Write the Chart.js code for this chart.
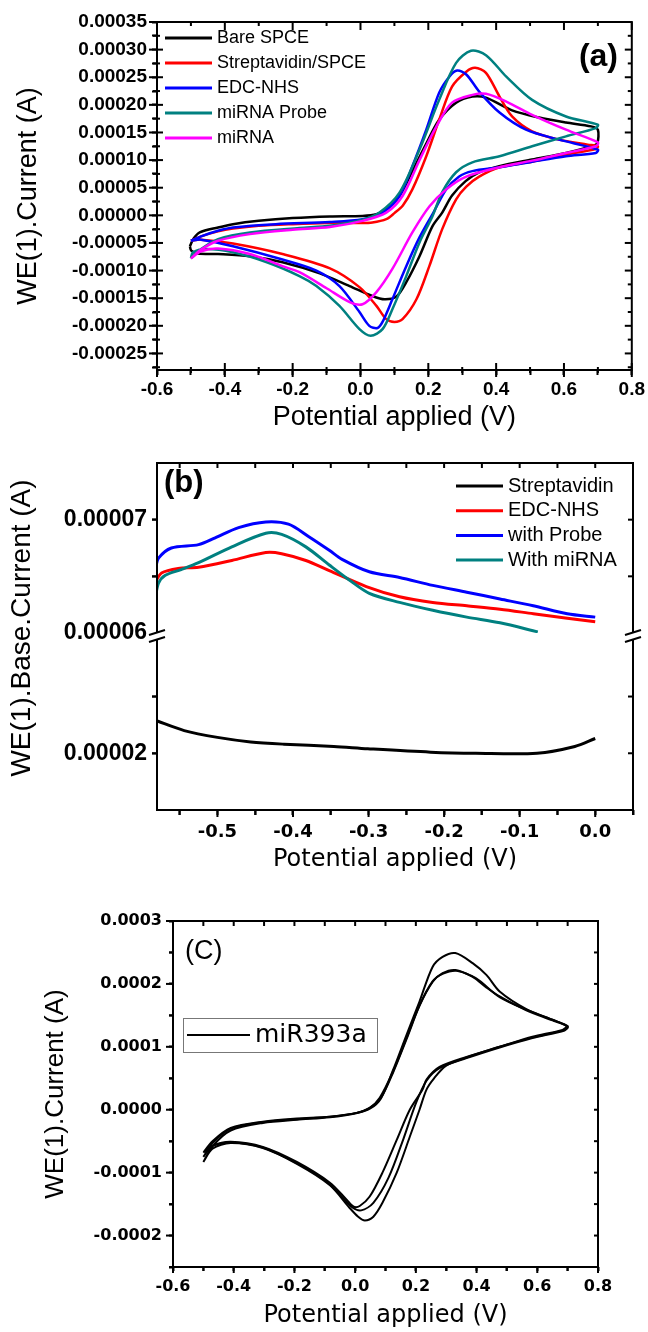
<!DOCTYPE html>
<html>
<head>
<meta charset="utf-8">
<script src="https://cdn.jsdelivr.net/npm/chart.js@4.4.1/dist/chart.umd.min.js"></script>
<style>
  body { margin: 0; background: #fff; width: 648px; height: 1332px; overflow: hidden; }
  canvas { position: absolute; left: 0; }
</style>
</head>
<body>
<canvas id="chartA" width="648" height="440" style="top:0px"></canvas>
<canvas id="chartB" width="648" height="450" style="top:440px"></canvas>
<canvas id="chartC" width="648" height="442" style="top:890px"></canvas>
<script>
// ---------- panel (a): CV curves, [potential (V), current (A)] ----------
const aLabels = ['Bare SPCE', 'Streptavidin/SPCE', 'EDC-NHS', 'miRNA Probe', 'miRNA'];
const aColors = ['#000000', '#ff0000', '#0000ff', '#008080', '#ff00ff'];
const bareSPCE = [
  [-0.503,-5.6e-5],[-0.493,-4.3e-5],[-0.474,-3.1e-5],[-0.42,-2.2e-5],[-0.376,-1.6e-5],[-0.3,-1.0e-5],[-0.2,-5e-6],[-0.09,-2e-6],
  [0.006,-1e-6],[0.047,2e-6],[0.08,1.2e-5],[0.115,3.5e-5],[0.153,8.0e-5],[0.194,1.3e-4],[0.232,1.73e-4],[0.282,2.04e-4],
  [0.33,2.15e-4],[0.37,2.13e-4],[0.447,1.9e-4],[0.527,1.77e-4],[0.606,1.68e-4],[0.68,1.61e-4],[0.7,1.55e-4],
  [0.698,1.3e-4],[0.683,1.25e-4],[0.606,1.13e-4],[0.506,1.01e-4],[0.409,8.9e-5],[0.35,7.8e-5],[0.31,6.2e-5],[0.27,3.6e-5],
  [0.241,5e-6],[0.212,-2.0e-5],[0.174,-7.4e-5],[0.135,-1.21e-4],[0.106,-1.47e-4],[0.071,-1.52e-4],[0.035,-1.46e-4],
  [-0.032,-1.28e-4],[-0.12,-1.05e-4],[-0.23,-8.5e-5],[-0.326,-7.4e-5],[-0.42,-7.0e-5],[-0.48,-6.9e-5],[-0.499,-6.4e-5],[-0.503,-5.6e-5]
];
const streptavidinSPCE = [
  [-0.5,-4.6e-5],[-0.47,-3.8e-5],[-0.42,-2.9e-5],[-0.376,-2.4e-5],[-0.3,-1.9e-5],[-0.2,-1.6e-5],[-0.1,-1.4e-5],[0.0,-1.4e-5],
  [0.035,-1.3e-5],[0.076,-7e-6],[0.1,4e-6],[0.125,1.8e-5],[0.153,4.7e-5],[0.194,1.07e-4],[0.232,1.73e-4],[0.27,2.33e-4],
  [0.312,2.6e-4],[0.338,2.67e-4],[0.37,2.58e-4],[0.41,2.15e-4],[0.447,1.79e-4],[0.506,1.52e-4],[0.585,1.37e-4],[0.67,1.28e-4],[0.7,1.25e-4],
  [0.694,1.2e-4],[0.606,1.1e-4],[0.506,9.7e-5],[0.41,8.7e-5],[0.35,7.0e-5],[0.312,5.2e-5],[0.282,2.9e-5],[0.241,-2.5e-5],
  [0.203,-9.2e-5],[0.165,-1.52e-4],[0.124,-1.88e-4],[0.1,-1.93e-4],[0.076,-1.88e-4],[0.047,-1.64e-4],[-0.003,-1.3e-4],
  [-0.09,-9.6e-5],[-0.23,-7.0e-5],[-0.376,-5.1e-5],[-0.47,-4.4e-5],[-0.5,-4.6e-5]
];
const edcNHS = [
  [-0.5,-4.6e-5],[-0.47,-3.8e-5],[-0.42,-2.8e-5],[-0.376,-2.2e-5],[-0.25,-1.6e-5],[-0.09,-1.2e-5],[0.006,-7e-6],[0.065,5e-6],
  [0.115,3.5e-5],[0.153,8.9e-5],[0.194,1.55e-4],[0.232,2.22e-4],[0.262,2.51e-4],[0.285,2.62e-4],[0.312,2.55e-4],[0.35,2.24e-4],
  [0.41,1.86e-4],[0.488,1.55e-4],[0.585,1.37e-4],[0.7,1.19e-4],
  [0.694,1.13e-4],[0.606,1.07e-4],[0.506,9.7e-5],[0.41,8.7e-5],[0.33,8.0e-5],[0.29,7.0e-5],[0.253,4.7e-5],[0.215,5e-6],
  [0.174,-4.0e-5],[0.135,-9.2e-5],[0.094,-1.52e-4],[0.065,-1.93e-4],[0.05,-2.04e-4],[0.026,-2.0e-4],[-0.003,-1.75e-4],
  [-0.062,-1.28e-4],[-0.13,-1.0e-4],[-0.23,-8.0e-5],[-0.376,-5.6e-5],[-0.47,-4.4e-5],[-0.5,-4.6e-5]
];
const miRNAProbe = [
  [-0.5,-7.8e-5],[-0.47,-6.1e-5],[-0.42,-4.3e-5],[-0.326,-3.1e-5],[-0.18,-2.3e-5],[-0.09,-1.9e-5],[0.006,-8e-6],[0.056,5e-6],
  [0.115,4.1e-5],[0.174,1.19e-4],[0.232,2.09e-4],[0.282,2.76e-4],[0.326,2.98e-4],[0.37,2.9e-4],[0.43,2.51e-4],[0.506,2.09e-4],
  [0.606,1.79e-4],[0.7,1.64e-4],
  [0.694,1.58e-4],[0.606,1.43e-4],[0.506,1.25e-4],[0.41,1.07e-4],[0.33,9.6e-5],[0.282,7.8e-5],[0.241,4.2e-5],[0.212,-2e-6],
  [0.174,-4.9e-5],[0.135,-1.1e-4],[0.094,-1.7e-4],[0.065,-2.06e-4],[0.03,-2.18e-4],[-0.003,-2.06e-4],[-0.062,-1.64e-4],
  [-0.13,-1.28e-4],[-0.18,-1.1e-4],[-0.276,-8.5e-5],[-0.376,-6.7e-5],[-0.453,-6.1e-5],[-0.494,-6.7e-5],[-0.5,-7.8e-5]
];
const miRNA = [
  [-0.5,-7.8e-5],[-0.47,-6.2e-5],[-0.42,-4.6e-5],[-0.326,-3.4e-5],[-0.2,-2.6e-5],[-0.09,-2.1e-5],[0.006,-1.0e-5],[0.076,5e-6],
  [0.124,3.5e-5],[0.174,1.0e-4],[0.224,1.61e-4],[0.27,2.04e-4],[0.33,2.18e-4],[0.37,2.2e-4],[0.43,2.06e-4],[0.506,1.82e-4],
  [0.606,1.55e-4],[0.7,1.32e-4],
  [0.694,1.25e-4],[0.606,1.13e-4],[0.506,9.9e-5],[0.41,8.7e-5],[0.312,7.0e-5],[0.253,4.7e-5],[0.203,1.6e-5],[0.153,-3.1e-5],
  [0.094,-9.7e-5],[0.047,-1.39e-4],[0.006,-1.61e-4],[-0.032,-1.57e-4],[-0.1,-1.32e-4],[-0.18,-1.03e-4],[-0.23,-9.2e-5],
  [-0.326,-7.0e-5],[-0.42,-6.0e-5],[-0.47,-6.5e-5],[-0.5,-7.8e-5]
];
const aXTicks = [-0.6, -0.4, -0.2, 0.0, 0.2, 0.4, 0.6, 0.8];
const aYTicks = [-0.00025, -0.0002, -0.00015, -0.0001, -0.00005, 0, 0.00005, 0.0001, 0.00015, 0.0002, 0.00025, 0.0003, 0.00035];

// ---------- panel (b): base current, broken y axis ----------
const bLabels = ['Streptavidin', 'EDC-NHS', 'with Probe', 'With miRNA'];
const bColors = ['#000000', '#ff0000', '#0000ff', '#008080'];
const streptavidin = [
  [-0.582,2.29e-5],[-0.544,2.2e-5],[-0.5,2.14e-5],[-0.456,2.1e-5],[-0.412,2.08e-5],[-0.346,2.06e-5],[-0.301,2.04e-5],
  [-0.218,2.01e-5],[-0.158,2.0e-5],[-0.077,2.0e-5],[-0.027,2.06e-5],[0.0,2.13e-5]
];
const edcNHSBase = [
  [-0.582,6.45e-5],[-0.574,6.53e-5],[-0.552,6.57e-5],[-0.525,6.58e-5],[-0.481,6.64e-5],[-0.436,6.71e-5],[-0.415,6.70e-5],
  [-0.383,6.64e-5],[-0.352,6.55e-5],[-0.303,6.41e-5],[-0.259,6.32e-5],[-0.215,6.27e-5],[-0.17,6.24e-5],[-0.126,6.21e-5],
  [-0.082,6.17e-5],[-0.037,6.13e-5],[0.0,6.10e-5]
];
const withProbe = [
  [-0.582,6.57e-5],[-0.578,6.66e-5],[-0.561,6.75e-5],[-0.525,6.78e-5],[-0.503,6.84e-5],[-0.472,6.93e-5],[-0.436,6.98e-5],
  [-0.406,6.96e-5],[-0.379,6.85e-5],[-0.352,6.73e-5],[-0.335,6.65e-5],[-0.299,6.54e-5],[-0.259,6.49e-5],[-0.215,6.42e-5],
  [-0.17,6.36e-5],[-0.126,6.30e-5],[-0.082,6.24e-5],[-0.037,6.17e-5],[0.0,6.14e-5]
];
const withMiRNA = [
  [-0.582,6.32e-5],[-0.578,6.44e-5],[-0.569,6.51e-5],[-0.548,6.56e-5],[-0.525,6.62e-5],[-0.481,6.76e-5],[-0.436,6.88e-5],
  [-0.415,6.87e-5],[-0.383,6.76e-5],[-0.352,6.60e-5],[-0.326,6.47e-5],[-0.299,6.35e-5],[-0.259,6.27e-5],[-0.215,6.20e-5],
  [-0.17,6.14e-5],[-0.126,6.09e-5],[-0.076,6.01e-5]
];
const bXTicks = [-0.5, -0.4, -0.3, -0.2, -0.1, 0.0];
const bYTicks = [0.00002, 0.00006, 0.00007];

// ---------- panel (c): repeated scans of miR393a ----------
const scan1 = [
  [-0.5,-8.3e-5],[-0.47,-5.8e-5],[-0.41,-3.3e-5],[-0.304,-2.1e-5],[-0.192,-1.6e-5],[-0.083,-1.2e-5],[0.0,-6e-6],[0.05,2e-6],
  [0.085,1.8e-5],[0.124,6.2e-5],[0.17,1.2e-4],[0.212,1.72e-4],[0.255,2.27e-4],[0.288,2.43e-4],[0.33,2.49e-4],[0.387,2.33e-4],
  [0.433,2.14e-4],[0.476,1.88e-4],[0.564,1.6e-4],[0.65,1.43e-4],[0.7,1.33e-4],
  [0.69,1.27e-4],[0.584,1.15e-4],[0.476,1.0e-4],[0.367,8.3e-5],[0.3,7.0e-5],[0.26,5.0e-5],[0.235,3.2e-5],[0.212,0.0],
  [0.18,-4.3e-5],[0.137,-1.0e-4],[0.09,-1.48e-4],[0.06,-1.7e-4],[0.032,-1.76e-4],[0.01,-1.7e-4],[-0.02,-1.55e-4],
  [-0.083,-1.2e-4],[-0.192,-8.6e-5],[-0.304,-6.1e-5],[-0.41,-5.3e-5],[-0.47,-6.2e-5],[-0.5,-8.3e-5]
];
const scan2 = [
  [-0.5,-7.5e-5],[-0.47,-5.3e-5],[-0.41,-3.0e-5],[-0.304,-2.0e-5],[-0.192,-1.5e-5],[-0.083,-1.1e-5],[0.005,-5e-6],[0.048,3e-6],
  [0.085,1.9e-5],[0.124,5.8e-5],[0.17,1.13e-4],[0.212,1.65e-4],[0.255,2.03e-4],[0.288,2.17e-4],[0.33,2.22e-4],[0.387,2.11e-4],
  [0.433,1.94e-4],[0.476,1.8e-4],[0.564,1.58e-4],[0.65,1.42e-4],[0.7,1.32e-4],
  [0.69,1.26e-4],[0.584,1.14e-4],[0.476,9.9e-5],[0.367,8.2e-5],[0.278,6.6e-5],[0.235,4.6e-5],[0.2,1.0e-5],[0.16,-4.5e-5],
  [0.11,-1.08e-4],[0.06,-1.48e-4],[0.02,-1.6e-4],[-0.01,-1.55e-4],[-0.05,-1.35e-4],[-0.1,-1.12e-4],[-0.192,-8.5e-5],
  [-0.304,-6.0e-5],[-0.41,-5.2e-5],[-0.47,-5.8e-5],[-0.5,-7.5e-5]
];
const scan3 = [
  [-0.5,-6.8e-5],[-0.47,-5.0e-5],[-0.41,-2.9e-5],[-0.304,-1.9e-5],[-0.192,-1.4e-5],[-0.083,-1.1e-5],[0.005,-5e-6],[0.048,3e-6],
  [0.081,1.9e-5],[0.124,6.0e-5],[0.17,1.15e-4],[0.212,1.66e-4],[0.255,2.04e-4],[0.288,2.16e-4],[0.334,2.21e-4],[0.387,2.12e-4],
  [0.41,2.05e-4],[0.476,1.79e-4],[0.564,1.59e-4],[0.65,1.43e-4],[0.696,1.33e-4],
  [0.683,1.27e-4],[0.584,1.16e-4],[0.476,1.0e-4],[0.367,8.4e-5],[0.278,6.8e-5],[0.235,4.8e-5],[0.222,3.2e-5],[0.18,0.0],
  [0.137,-4.8e-5],[0.09,-1.0e-4],[0.048,-1.38e-4],[0.015,-1.53e-4],[-0.005,-1.54e-4],[-0.028,-1.43e-4],[-0.083,-1.16e-4],
  [-0.192,-8.3e-5],[-0.304,-5.9e-5],[-0.41,-5.1e-5],[-0.47,-5.7e-5],[-0.5,-6.8e-5]
];
const cXTicks = [-0.6, -0.4, -0.2, 0.0, 0.2, 0.4, 0.6, 0.8];
const cYTicks = [-0.0002, -0.0001, 0, 0.0001, 0.0002, 0.0003];

const ARIAL = '"Liberation Sans", Arial, sans-serif';
const DEJAVU = '"DejaVu Sans", sans-serif';

// tick values of a scale, one per minor step inside its range
function tickValues(s, step) {
  const out = [];
  for (let i = Math.ceil(s.min / step - 1e-6); i <= Math.floor(s.max / step + 1e-6); i++) out.push(i * step);
  return out;
}

// frame, inner/outer tick marks, axis break, inline legend and panel tag
function deco(cfg) {
  return {
    id: 'deco',
    afterDraw(chart) {
      const ctx = chart.ctx;
      const a = chart.chartArea;
      ctx.save();
      ctx.strokeStyle = '#000';
      ctx.fillStyle = '#000';
      ctx.lineWidth = 2;
      ctx.strokeRect(a.left, a.top, a.right - a.left, a.bottom - a.top);

      Object.keys(cfg.marks).forEach(id => {
        const s = chart.scales[id];
        const mk = cfg.marks[id];
        const horiz = s.isHorizontal();
        tickValues(s, mk.step).forEach(v => {
          const k = mk.labels.some(t => Math.abs(t - v) < mk.step / 10) ? 0 : 1;
          const p = s.getPixelForValue(v);
          if (mk.skipEdge && (Math.abs(p - s.top) < mk.skipEdge || Math.abs(s.bottom - p) < mk.skipEdge)) return;
          if (horiz) {
            ctx.fillRect(p - 1, a.bottom - mk.inn[k], 2, mk.inn[k] + mk.out[k]);
            ctx.fillRect(p - 1, a.top, 2, mk.far[k]);
          } else {
            ctx.fillRect(a.left - mk.out[k], p - 1, mk.out[k] + mk.inn[k], 2);
            ctx.fillRect(a.right - mk.far[k], p - 1, mk.far[k], 2);
          }
        });
      });

      if (cfg.breakAt) {
        const y = chart.scales[cfg.breakAt].bottom;
        [a.left, a.right].forEach(x => {
          ctx.fillStyle = '#fff';
          ctx.beginPath();
          ctx.moveTo(x - 8, y + 2); ctx.lineTo(x + 8, y - 3); ctx.lineTo(x + 8, y + 4); ctx.lineTo(x - 8, y + 9);
          ctx.closePath(); ctx.fill();
          ctx.beginPath();
          ctx.moveTo(x - 8, y + 2); ctx.lineTo(x + 8, y - 3);
          ctx.moveTo(x - 8, y + 9); ctx.lineTo(x + 8, y + 4);
          ctx.stroke();
        });
      }

      ctx.fillStyle = '#000';
      if (cfg.legend) {
        const L = cfg.legend;
        ctx.font = L.font;
        ctx.textBaseline = 'middle';
        ctx.textAlign = 'left';
        let row = 0;
        chart.data.datasets.forEach(d => {
          if (!d.label) return;
          const y = L.y + row * L.rowH;
          ctx.strokeStyle = d.borderColor;
          ctx.lineWidth = L.lineWidth;
          ctx.beginPath(); ctx.moveTo(L.x, y); ctx.lineTo(L.x + L.lineLen, y); ctx.stroke();
          ctx.fillText(d.label, L.x + L.lineLen + L.gap, y);
          row++;
        });
        if (L.box) {
          ctx.strokeStyle = '#777';
          ctx.lineWidth = 1;
          ctx.strokeRect(L.box[0] + 0.5, L.box[1] + 0.5, L.box[2], L.box[3]);
        }
      }
      if (cfg.tag) {
        ctx.font = cfg.tag.font;
        ctx.textAlign = cfg.tag.align;
        ctx.textBaseline = 'middle';
        ctx.fillText(cfg.tag.text, cfg.tag.x, cfg.tag.y);
      }
      if (cfg.ytitle) {
        ctx.translate(cfg.ytitle.x, cfg.ytitle.y);
        ctx.rotate(-Math.PI / 2);
        ctx.font = cfg.ytitle.font;
        ctx.textAlign = 'center';
        ctx.textBaseline = 'middle';
        ctx.fillText(cfg.ytitle.text, 0, 0);
      }
      ctx.restore();
    }
  };
}

function axis(o) {
  const hide = o.hide || [];
  const sc = {
    type: 'linear', position: o.position, min: o.min, max: o.max,
    // outward tick marks drawn by Chart.js itself
    grid: {
      display: true, drawOnChartArea: false, drawTicks: true, tickLength: o.tl, tickWidth: 2,
      color: '#000',
      tickColor: c => (c.tick && hide.some(h => Math.abs(h - c.tick.value) < o.step / 10) ? 'rgba(0,0,0,0)' : '#000')
    },
    border: { display: false },
    ticks: {
      stepSize: o.step, includeBounds: false, autoSkip: false, maxRotation: 0, minRotation: 0,
      padding: o.pad, color: '#000', font: o.font,
      callback: v => {
        const hit = o.labels.find(t => Math.abs(t - v) < o.step / 10);
        return hit === undefined ? '' : hit.toFixed(o.dec);
      }
    },
    title: o.title
      ? { display: true, text: o.title, color: '#000', font: o.titleFont, padding: o.titlePad }
      : { display: false },
    afterFit: s => { if (s.isHorizontal()) s.height = o.size; else s.width = o.size; }
  };
  if (o.stack) { sc.stack = o.stack; sc.stackWeight = o.weight; }
  return sc;
}

function lines(series, labels, colors, width, axisIds) {
  return series.map((pts, i) => ({
    label: labels[i],
    data: pts.map(p => ({ x: p[0], y: p[1] })),
    showLine: true,
    borderColor: colors[i],
    backgroundColor: colors[i],
    borderWidth: width,
    pointRadius: 0,
    tension: 0.3,
    fill: false,
    order: series.length - i,
    yAxisID: axisIds ? axisIds[i] : 'y'
  }));
}

function baseOptions(padding, scales) {
  return {
    responsive: false,
    animation: false,
    events: [],
    layout: { padding: padding },
    plugins: { legend: { display: false }, tooltip: { enabled: false } },
    scales: scales
  };
}

// (a)
new Chart(document.getElementById('chartA'), {
  type: 'scatter',
  data: { datasets: lines([bareSPCE, streptavidinSPCE, edcNHS, miRNAProbe, miRNA], aLabels, aColors, 2.5) },
  options: baseOptions({ top: 22, right: 14, left: 0, bottom: 0 }, {
    x: axis({ position: 'bottom', min: -0.6, max: 0.8, step: 0.1, labels: aXTicks, dec: 1, tl: 5, pad: 3, size: 70,
      font: { family: ARIAL, size: 19, weight: 'bold' },
      title: 'Potential applied (V)', titleFont: { family: ARIAL, size: 27 }, titlePad: { top: 0, bottom: 6 } }),
    y: axis({ position: 'left', min: -0.00028, max: 0.00035, step: 0.000025, labels: aYTicks, dec: 5, tl: 5, pad: 5, size: 157,
      font: { family: ARIAL, size: 19, weight: 'bold' },
      title: 'WE(1).Current (A)', titleFont: { family: ARIAL, size: 27 }, titlePad: { top: 12, bottom: 0 } })
  }),
  plugins: [deco({
    marks: {
      x: { step: 0.1, labels: aXTicks, out: [7, 3], inn: [7, 3], far: [8, 4] },
      y: { step: 0.000025, labels: aYTicks, out: [8, 4], inn: [6, 3], far: [7, 4] }
    },
    legend: { x: 165, y: 38, rowH: 25, lineLen: 47, gap: 5, lineWidth: 3, font: '18px ' + ARIAL },
    tag: { text: '(a)', x: 618, y: 57, align: 'right', font: 'bold 32px ' + ARIAL }
  })]
});

// (b)
new Chart(document.getElementById('chartB'), {
  type: 'scatter',
  data: { datasets: lines([streptavidin, edcNHSBase, withProbe, withMiRNA], bLabels, bColors, 3,
    ['yLow', 'yHigh', 'yHigh', 'yHigh']) },
  options: baseOptions({ top: 23, right: 15, left: 0, bottom: 0 }, {
    x: axis({ position: 'bottom', min: -0.58, max: 0.05, step: 0.05, labels: bXTicks, dec: 1, tl: 5, pad: 7, size: 80,
      font: { family: DEJAVU, size: 18, weight: 'bold' },
      title: 'Potential applied (V)', titleFont: { family: DEJAVU, size: 24 }, titlePad: { top: 0, bottom: 16 } }),
    yLow: axis({ position: 'left', stack: 'b', weight: 177, min: 0.000015, max: 0.0000306, step: 0.000005,
      hide: [0.000015, 0.00003], tl: 5, pad: 5,
      labels: bYTicks, dec: 5, size: 157, font: { family: ARIAL, size: 23, weight: 'bold' } }),
    yHigh: axis({ position: 'left', stack: 'b', weight: 170, min: 0.00006, max: 0.000075, step: 0.000005,
      hide: [0.00006, 0.000075], tl: 5, pad: 5,
      labels: bYTicks, dec: 5, size: 157, font: { family: ARIAL, size: 23, weight: 'bold' } })
  }),
  plugins: [deco({
    marks: {
      x: { step: 0.05, labels: bXTicks, out: [7, 5], inn: [0, 0], far: [5, 5] },
      yLow: { step: 0.000005, labels: bYTicks, out: [5, 5], inn: [0, 0], far: [5, 5], skipEdge: 9 },
      yHigh: { step: 0.000005, labels: bYTicks, out: [5, 5], inn: [0, 0], far: [5, 5], skipEdge: 9 }
    },
    breakAt: 'yHigh',
    legend: { x: 456, y: 46, rowH: 24.7, lineLen: 47, gap: 5, lineWidth: 3, font: '20px ' + ARIAL },
    tag: { text: '(b)', x: 164, y: 43, align: 'left', font: 'bold 31px ' + ARIAL },
    ytitle: { text: 'WE(1).Base.Current (A)', x: 22, y: 188, font: '28px ' + ARIAL }
  })]
});

// (c)
new Chart(document.getElementById('chartC'), {
  type: 'scatter',
  data: { datasets: lines([scan1, scan2, scan3], ['miR393a', '', ''], ['#000', '#000', '#000'], 2) },
  options: baseOptions({ top: 31, right: 50, left: 0, bottom: 0 }, {
    x: axis({ position: 'bottom', min: -0.6, max: 0.8, step: 0.1, labels: cXTicks, dec: 1, tl: 4, pad: 6, size: 65,
      font: { family: DEJAVU, size: 16, weight: 'bold' },
      title: 'Potential applied (V)', titleFont: { family: DEJAVU, size: 24 }, titlePad: { top: 0, bottom: 2 } }),
    y: axis({ position: 'left', min: -0.00025, max: 0.0003, step: 0.00005, labels: cYTicks, dec: 4, tl: 4, pad: 7, size: 173,
      font: { family: DEJAVU, size: 16, weight: 'bold' },
      title: 'WE(1).Current (A)', titleFont: { family: ARIAL, size: 26 }, titlePad: { top: 40, bottom: 0 } })
  }),
  plugins: [deco({
    marks: {
      x: { step: 0.1, labels: cXTicks, out: [6, 4], inn: [0, 0], far: [5, 5] },
      y: { step: 0.00005, labels: cYTicks, out: [7, 4], inn: [0, 0], far: [4, 4] }
    },
    legend: { x: 187, y: 145, rowH: 30, lineLen: 63, gap: 5, lineWidth: 2, font: '25px ' + DEJAVU, box: [183, 128, 194, 34] },
    tag: { text: '(C)', x: 185, y: 62, align: 'left', font: '27px ' + ARIAL }
  })]
});
</script>
</body>
</html>
